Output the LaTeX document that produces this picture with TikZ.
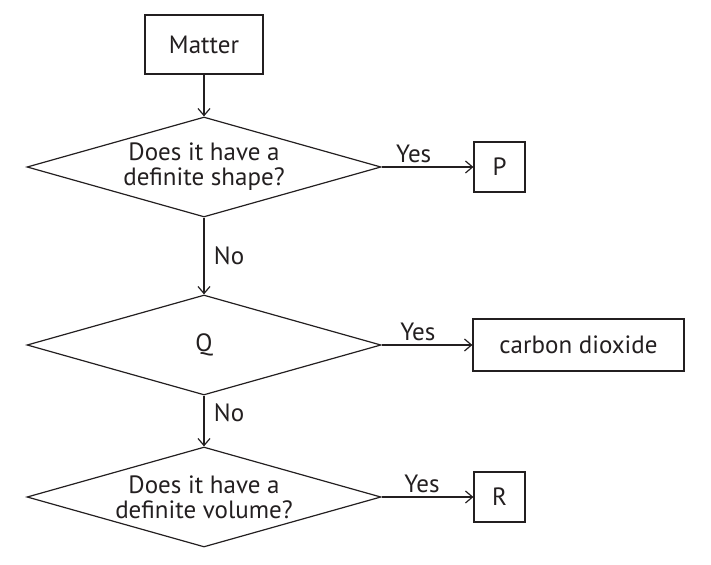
\documentclass[tikz,border=0pt]{standalone}
\usepackage{fontspec}
\setmainfont{PT Sans}
\usetikzlibrary{shapes.geometric, arrows.meta}
\definecolor{ink}{HTML}{231F20}

\begin{document}
\begin{tikzpicture}[x=1pt, y=1pt, line width=1.2pt, draw=ink, text=ink,
    font=\fontsize{25}{25}\selectfont,
    box/.style={draw=ink, rectangle, inner sep=0pt},
    question/.style={draw=ink, diamond, aspect=3.54, inner sep=0pt, align=center,
        minimum width=354, minimum height=100},
    flow/.style={draw=ink, -{Straight Barb[length=7pt, width=12pt]}}]
    \useasboundingbox (0, 0) rectangle (711, -564);

    % draw boxes
    \node[box, minimum width=118, minimum height=59] (matter) at (204, -44.5) {Matter};
    \node[box, minimum width=51, minimum height=50] (p) at (499.5, -167) {P};
    \node[box, minimum width=211, minimum height=52] (co2) at (578.5, -345) {carbon dioxide};
    \node[box, minimum width=51, minimum height=50] (r) at (499.5, -497) {R};

    % draw questions
    \node[question] (shape) at (204, -167) {Does it have a\\definite shape?};
    \node[question] (q) at (204, -345) {\raisebox{5pt}{Q}};
    \node[question] (volume) at (204, -497) {Does it have a\\definite volume?};

    % draw arrows
    \draw[flow] (matter) -- (shape);
    \draw[flow] (shape) -- node[pos=0.35, above, inner sep=3.5pt] (yes1) {Yes} (p);
    \draw[flow] (shape) -- node[pos=0.5, right=6pt] (no1) {No} (q);
    \draw[flow] (q) -- node[pos=0.4, above, inner sep=3.5pt] (yes2) {Yes} (co2);
    \draw[flow] (q) -- node[pos=0.33, right=6pt] (no2) {No} (volume);
    \draw[flow] (volume) -- node[pos=0.44, above, inner sep=3.5pt] (yes3) {Yes} (r);
\end{tikzpicture}
\end{document}
